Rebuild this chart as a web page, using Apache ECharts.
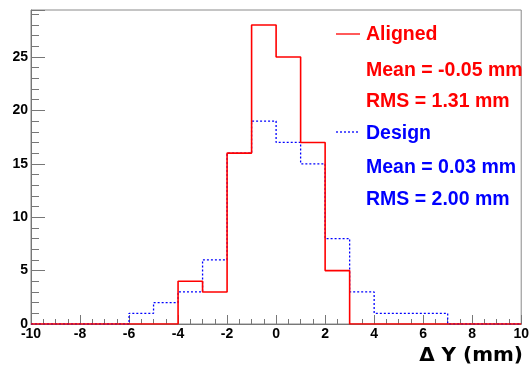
<!DOCTYPE html>
<html><head><meta charset="utf-8">
<script src="https://cdn.jsdelivr.net/npm/echarts@6/dist/echarts.min.js"></script>
<style>html,body{margin:0;padding:0;background:#fff}#c{width:532px;height:367px}</style>
</head><body><div id="c"></div>
<script>
// bin lower edges -10..9 (bin width 1)
var binEdges = [-10,-9,-8,-7,-6,-5,-4,-3,-2,-1,0,1,2,3,4,5,6,7,8,9];
var aligned = [0,0,0,0,0,0,4,3,16,28,25,17,5,0,0,0,0,0,0,0];
var design  = [0,0,0,0,1,2,3,6,16,19,17,15,8,3,1,1,1,0,0,0];
var xTicks = [-10,-8,-6,-4,-2,0,2,4,6,8,10];
var yTicks = [0,5,10,15,20,25];
var legendText = {
  aligned: ['Aligned','Mean = -0.05 mm','RMS = 1.31 mm'],
  design: ['Design','Mean = 0.03 mm','RMS = 2.00 mm']
};

function stepData(vals){
  var d = binEdges.map(function(e,i){return [e, vals[i]];});
  d.push([binEdges[binEdges.length-1]+1, vals[vals.length-1]]);
  return d;
}
var font = 'Liberation Sans, Arial, sans-serif';
var chart = echarts.init(document.getElementById('c'), null, {renderer:'canvas'});
var axisCol = '#777';
function txt(s, y, col){
  return {type:'text',style:{x:366,y:y,text:s,fill:col,font:'bold 19.5px '+font,textAlign:'left',textVerticalAlign:'middle'}};
}
chart.setOption({
  animation:false,
  backgroundColor:'#fff',
  grid:{left:31,right:7,top:10,bottom:43,show:true,borderColor:'#8a8a8a',borderWidth:1},
  xAxis:{type:'value',min:-10,max:10,interval:2,
    axisLine:{show:true,onZero:false,lineStyle:{color:axisCol,width:1}},
    axisTick:{show:true,inside:true,length:9,lineStyle:{color:axisCol}},
    minorTick:{show:true,splitNumber:4,length:5,lineStyle:{color:axisCol}},
    splitLine:{show:false},
    axisLabel:{color:'#000',fontFamily:font,fontWeight:'bold',fontSize:14,margin:3,
      formatter:function(v){return xTicks.indexOf(v)>=0?String(v):'';}}
  },
  yAxis:{type:'value',min:0,max:29.4,interval:5,
    axisLine:{show:true,onZero:false,lineStyle:{color:axisCol,width:1}},
    axisTick:{show:true,inside:true,length:14,lineStyle:{color:axisCol}},
    minorTick:{show:true,splitNumber:5,length:8,lineStyle:{color:axisCol}},
    splitLine:{show:false},
    axisLabel:{color:'#000',fontFamily:font,fontWeight:'bold',fontSize:14,margin:3,
      formatter:function(v){return yTicks.indexOf(v)>=0?String(v):'';}}
  },
  series:[
    {type:'line',step:'end',data:stepData(design),symbol:'none',
     lineStyle:{color:'#0000ff',width:1.3,type:[2,2]},z:2},
    {type:'line',step:'end',data:stepData(aligned),symbol:'none',
     lineStyle:{color:'#ff0000',width:1.6},z:3}
  ],
  graphic:[
    {type:'line',shape:{x1:336,y1:34,x2:360,y2:34},style:{stroke:'#ff0000',lineWidth:1.3}},
    txt(legendText.aligned[0],35,'#ff0000'),
    txt(legendText.aligned[1],70.5,'#ff0000'),
    txt(legendText.aligned[2],101.5,'#ff0000'),
    {type:'line',shape:{x1:336,y1:132,x2:360,y2:132},style:{stroke:'#0000ff',lineWidth:1.3,lineDash:[2,2]}},
    txt(legendText.design[0],134,'#0000ff'),
    txt(legendText.design[1],167.5,'#0000ff'),
    txt(legendText.design[2],199.5,'#0000ff'),
    {type:'text',style:{x:523,y:356,text:'\u0394 Y (mm)',fill:'#000',font:'bold 20px DejaVu Sans, sans-serif',textAlign:'right',textVerticalAlign:'middle'}}
  ]
});
</script></body></html>
